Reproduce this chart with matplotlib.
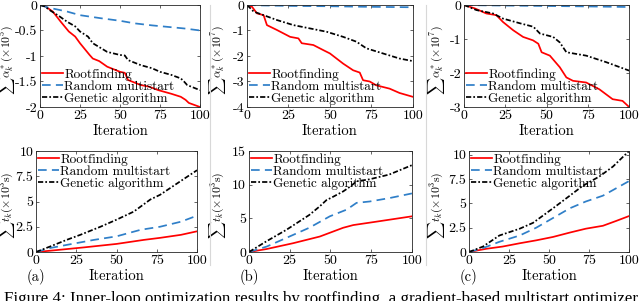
import matplotlib
matplotlib.use('Agg')
import matplotlib.pyplot as plt
from matplotlib.lines import Line2D

plt.rcParams['font.family'] = 'cmr10'
plt.rcParams['mathtext.fontset'] = 'cm'
plt.rcParams['axes.unicode_minus'] = False
plt.rcParams['axes.formatter.use_mathtext'] = True

# --- data ---
# (a) top: sum alpha (x1e5)
a_top_rf_x = [0, 3, 8, 13, 18, 22, 25, 31, 33, 37, 42, 50, 53, 55, 63, 68, 74, 82, 88, 91, 93, 100]
a_top_rf_y = [0, -0.02, -0.13, -0.33, -0.52, -0.62, -0.75, -0.98, -1.05, -1.1, -1.21, -1.31, -1.33, -1.47, -1.57, -1.6, -1.67, -1.74, -1.8, -1.86, -1.92, -2.0]
a_top_rm_x = [0, 5, 17, 25, 38, 50, 59, 70, 80, 90, 100]
a_top_rm_y = [0, -0.05, -0.13, -0.2, -0.26, -0.31, -0.36, -0.4, -0.43, -0.46, -0.5]
a_top_ga_x = [0, 3, 6, 12, 17, 22, 25, 30, 33, 42, 50, 53, 55, 63, 70, 75, 82, 88, 90, 92, 96, 100]
a_top_ga_y = [0, -0.03, -0.1, -0.22, -0.33, -0.42, -0.52, -0.62, -0.75, -0.92, -0.98, -0.99, -1.08, -1.18, -1.24, -1.31, -1.37, -1.44, -1.5, -1.57, -1.62, -1.67]

# (b) top: sum alpha (x1e7)
b_top_rf_x = [0, 3, 6, 10, 12, 18, 26, 31, 33, 40, 46, 50, 54, 58, 64, 68, 70, 74, 78, 86, 92, 100]
b_top_rf_y = [0, -0.07, -0.33, -0.4, -0.79, -0.98, -1.25, -1.31, -1.5, -1.57, -1.77, -1.9, -2.1, -2.3, -2.56, -2.65, -2.95, -3.0, -3.15, -3.28, -3.45, -3.6]
b_top_rm_x = [0, 10, 30, 50, 70, 100]
b_top_rm_y = [0, -0.02, -0.04, -0.05, -0.07, -0.09]
b_top_ga_x = [0, 4, 10, 18, 28, 38, 48, 58, 66, 72, 82, 92, 100]
b_top_ga_y = [0, -0.26, -0.4, -0.59, -0.79, -0.92, -1.05, -1.25, -1.44, -1.7, -1.9, -2.1, -2.2]

# (c) top: sum alpha (x1e7)
c_top_rf_x = [0, 6.5, 13.5, 19.6, 23.6, 29.7, 35.8, 41.8, 45, 47, 52, 58, 62, 66, 74, 82, 90, 96, 100]
c_top_rf_y = [0, -0.1, -0.25, -0.3, -0.5, -0.74, -0.94, -1.04, -1.14, -1.39, -1.49, -1.83, -2.13, -2.23, -2.28, -2.48, -2.77, -2.82, -3.0]
c_top_rm_x = [0, 10, 30, 50, 70, 100]
c_top_rm_y = [0, -0.01, -0.02, -0.03, -0.04, -0.06]
c_top_ga_x = [0, 7.5, 17.6, 23.6, 34, 42, 46, 54, 58, 62, 74, 86, 100]
c_top_ga_y = [0, -0.15, -0.25, -0.4, -0.54, -0.64, -0.84, -0.94, -1.1, -1.39, -1.49, -1.68, -1.93]

# (a) bottom: sum t (x1e3 s)
a_bot_rf_x = [0, 9, 30, 50, 67, 77, 90, 100]
a_bot_rf_y = [0, 0.13, 0.46, 0.8, 1.2, 1.4, 1.7, 2.05]
a_bot_rm_x = [0, 9, 19, 36, 50, 65, 77, 90, 100]
a_bot_rm_y = [0, 0.4, 0.7, 1.2, 1.55, 2.2, 2.5, 3.0, 3.6]
a_bot_ga_x = [0, 9, 19, 27.5, 40, 50, 60.7, 71, 77, 89.6, 100]
a_bot_ga_y = [0, 0.56, 1.2, 1.7, 2.5, 3.2, 4.0, 5.2, 5.66, 7.0, 8.1]

# (b) bottom
b_bot_rf_x = [0, 10.8, 27, 43.5, 57.8, 64, 78, 100]
b_bot_rf_y = [0, 0.44, 1.3, 2.3, 3.6, 4.0, 4.5, 5.3]
b_bot_rm_x = [0, 10.8, 23, 37, 49.6, 60, 66, 74, 86, 100]
b_bot_rm_y = [0, 0.8, 2.1, 3.6, 5.3, 6.3, 7.3, 7.5, 8.0, 8.7]
b_bot_ga_x = [0, 10.8, 23, 37, 43.5, 47.5, 51.6, 57.8, 62, 66, 74, 86, 100]
b_bot_ga_y = [0, 1.6, 3.3, 5.5, 6.8, 7.7, 8.2, 9.0, 9.7, 10.5, 10.8, 11.5, 12.9]

# (c) bottom
c_bot_rf_x = [0, 10.8, 21, 31.7, 42, 52.5, 63, 73, 83.7, 92, 100]
c_bot_rf_y = [0, 0.33, 0.56, 0.9, 1.2, 1.55, 2.0, 2.4, 2.7, 3.2, 3.7]
c_bot_rm_x = [0, 8.75, 19, 31.7, 42, 52.5, 63, 73, 83.7, 100]
c_bot_rm_y = [0, 0.4, 1.05, 1.7, 2.5, 3.5, 4.5, 5.2, 5.8, 7.3]
c_bot_ga_x = [0, 8.75, 19, 31.7, 40, 52.5, 63, 71, 81.7, 90, 100]
c_bot_ga_y = [0, 0.56, 1.7, 2.4, 3.0, 4.5, 5.8, 6.8, 7.8, 8.8, 10.4]

labels = ['Rootfinding', 'Random multistart', 'Genetic algorithm']
red = '#ff0000'
blue = '#2f7fc8'
black = '#000000'

fig = plt.figure(figsize=(6.4, 3.01), dpi=100)

top_pos = [[0.0625, 0.6445, 0.25, 0.339],
           [0.386, 0.6445, 0.259, 0.339],
           [0.725, 0.6445, 0.258, 0.339]]
bot_pos = [[0.0563, 0.1628, 0.2516, 0.3355],
           [0.389, 0.1628, 0.2547, 0.3355],
           [0.7328, 0.1628, 0.25, 0.3355]]

top_data = [
    (a_top_rf_x, a_top_rf_y, a_top_rm_x, a_top_rm_y, a_top_ga_x, a_top_ga_y),
    (b_top_rf_x, b_top_rf_y, b_top_rm_x, b_top_rm_y, b_top_ga_x, b_top_ga_y),
    (c_top_rf_x, c_top_rf_y, c_top_rm_x, c_top_rm_y, c_top_ga_x, c_top_ga_y),
]
bot_data = [
    (a_bot_rf_x, a_bot_rf_y, a_bot_rm_x, a_bot_rm_y, a_bot_ga_x, a_bot_ga_y),
    (b_bot_rf_x, b_bot_rf_y, b_bot_rm_x, b_bot_rm_y, b_bot_ga_x, b_bot_ga_y),
    (c_bot_rf_x, c_bot_rf_y, c_bot_rm_x, c_bot_rm_y, c_bot_ga_x, c_bot_ga_y),
]
top_ylims = [(-2, 0), (-4, 0), (-3, 0)]
top_yticks = [[-2, -1.5, -1, -0.5, 0], [-4, -3, -2, -1, 0], [-3, -2, -1, 0]]
top_ylabels = [r'$\sum\alpha_k^*(\times10^5)$', r'$\sum\alpha_k^*(\times10^7)$', r'$\sum\alpha_k^*(\times10^7)$']
top_labx = [-0.142, -0.115, -0.103]
bot_ylims = [(0, 10), (0, 15), (0, 10.4)]
bot_yticks = [[0, 2.5, 5, 7.5, 10], [0, 5, 10, 15], [0, 2.5, 5, 7.5, 10]]
bot_labx = [-0.116, -0.129, -0.1375]
panel_tags = ['(a)', '(b)', '(c)']

lw = 1.25
dash_rm = (0, (5, 3))
dash_ga = (0, (3, 1.2, 1, 1.2))
leg_kw = dict(frameon=False, fontsize=9.5, handlelength=1.6, handletextpad=0.1,
              labelspacing=0.0, borderaxespad=0.0, borderpad=0.15)


def fmt(v):
    if float(v).is_integer():
        return str(int(v))
    return str(v)


def style_axes(ax, ylim, yticks):
    ax.set_xlim(0, 100)
    ax.set_ylim(*ylim)
    ax.set_xticks([0, 25, 50, 75, 100])
    ax.set_xticklabels(['0', '25', '50', '75', '100'])
    ax.set_yticks(yticks)
    ax.set_yticklabels([fmt(v) for v in yticks])
    ax.tick_params(direction='in', top=True, right=True, length=2.5, width=0.5,
                   labelsize=10, pad=2, colors='#262626', labelcolor='black')
    for s in ax.spines.values():
        s.set_linewidth(0.6)
        s.set_color('#262626')
    ax.set_xlabel('Iteration', fontsize=10.5, labelpad=2)


for i in range(3):
    ax = fig.add_axes(top_pos[i])
    rx, ry, mx, my, gx, gy = top_data[i]
    ax.plot(rx, ry, color=red, lw=lw, label=labels[0])
    ax.plot(mx, my, color=blue, lw=lw, ls=dash_rm, label=labels[1])
    ax.plot(gx, gy, color=black, lw=lw, ls=dash_ga, label=labels[2])
    style_axes(ax, top_ylims[i], top_yticks[i])
    ax.set_ylabel(top_ylabels[i], fontsize=8.5)
    ax.yaxis.set_label_coords(top_labx[i], 0.46)
    ax.legend(loc='lower left', bbox_to_anchor=(0.0, 0.0), **leg_kw)

    ax = fig.add_axes(bot_pos[i])
    rx, ry, mx, my, gx, gy = bot_data[i]
    ax.plot(rx, ry, color=red, lw=lw, label=labels[0])
    ax.plot(mx, my, color=blue, lw=lw, ls=dash_rm, label=labels[1])
    ax.plot(gx, gy, color=black, lw=lw, ls=dash_ga, label=labels[2])
    style_axes(ax, bot_ylims[i], bot_yticks[i])
    ax.set_ylabel(r'$\sum t_k(\times10^3\mathrm{s})$', fontsize=8.5)
    ax.yaxis.set_label_coords(bot_labx[i], 0.465)
    ax.legend(loc='upper left', bbox_to_anchor=(0.0, 1.0), **leg_kw)
    ax.text(0.0, -0.25, panel_tags[i], transform=ax.transAxes, fontsize=10.5,
            ha='center', va='center')

# faint separators between subfigures
for xs in [210 / 640, 426 / 640]:
    fig.add_artist(Line2D([xs, xs], [1 - 265 / 301, 1 - 5 / 301], color='#d8d8d8', lw=0.8))

fig.text(0.006, 1 - 303 / 301,
         'Figure 4: Inner-loop optimization results by rootfinding, a gradient-based multistart optimizer',
         fontsize=12.2, family='Liberation Serif', ha='left', va='baseline')

fig.savefig('out.png', dpi=100)
